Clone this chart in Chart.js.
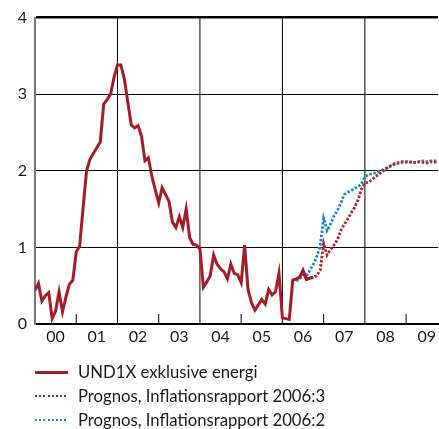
<!DOCTYPE html>
<html><head><meta charset="utf-8">
<script src="https://cdn.jsdelivr.net/npm/chart.js@4.4.0/dist/chart.umd.min.js"></script>
<style>
html,body{margin:0;padding:0;background:#fff;}
#wrap{position:relative;width:439px;height:429px;overflow:hidden;}
#c{position:absolute;left:0;top:0;}
#legend{position:absolute;left:0;top:0;width:439px;height:429px;font-family:Lato,'Open Sans',sans-serif;font-size:16.7px;color:#1a1a1a;}
.row{position:absolute;left:35px;height:24px;white-space:nowrap;}
.sw{position:absolute;left:0;width:33px;}
.txt{position:absolute;left:43px;top:0;line-height:24px;}
</style></head>
<body>
<div id="wrap">
<canvas id="c" width="439" height="345"></canvas>
<div id="legend"></div>
</div>
<script>
// x axis: years (labels centered on each year); months counted from Jan 2000 = 0
const yearLabels = ['00','01','02','03','04','05','06','07','08','09'];
const yTicks = [0, 1, 2, 3, 4];

// UND1X exklusive energi, monthly from Jan 2000
const undxStart = 0;
const undx = [0.44,0.53,0.30,0.37,0.41,0.07,0.17,0.42,0.16,0.35,0.52,0.57,
  0.94,1.02,1.52,2.00,2.15,2.23,2.30,2.38,2.87,2.93,3.00,3.22,
  3.38,3.38,3.20,2.90,2.60,2.56,2.59,2.45,2.13,2.17,1.93,1.75,
  1.58,1.78,1.69,1.60,1.33,1.26,1.40,1.26,1.50,1.13,1.04,1.03,
  0.98,0.48,0.55,0.63,0.90,0.78,0.72,0.68,0.59,0.78,0.66,0.64,
  0.54,1.03,0.45,0.28,0.18,0.25,0.32,0.26,0.45,0.38,0.42,0.66,
  0.08,0.07,0.06,0.57,0.59,0.61,0.70,0.58,0.60,0.61];

// Prognos, Inflationsrapport 2006:3, monthly from Apr 2006
const prog3Start = 75;
const prog3 = [0.57,0.59,0.61,0.70,0.58,0.60,0.61,0.63,0.70,
  1.05,0.90,0.97,1.03,1.10,1.22,1.30,1.37,1.45,1.52,1.62,1.76,
  1.84,1.85,1.88,1.92,1.95,1.99,2.02,2.05,2.08,2.10,2.11,2.12,
  2.12,2.12,2.11,2.11,2.12,2.11,2.10,2.12,2.11,2.12];

// Prognos, Inflationsrapport 2006:2, monthly from May 2006
const prog2Start = 76;
const prog2 = [0.56,0.59,0.64,0.63,0.70,0.78,0.88,1.02,
  1.38,1.22,1.30,1.41,1.48,1.58,1.69,1.72,1.74,1.77,1.79,1.83,
  1.92,1.95,1.96,1.97,1.99,2.01,2.03,2.05,2.07,2.09,2.10,2.11,
  2.11,2.11,2.11,2.11,2.12,2.13,2.12,2.13,2.13,2.13];

const seriesLabels = ['UND1X exklusive energi','Prognos, Inflationsrapport 2006:3','Prognos, Inflationsrapport 2006:2'];

const RED = '#a51d24', RED2 = '#b0242b', BLUE = '#1f88cc';
const toPts = (arr, start) => arr.map((v, i) => ({x: start + i, y: v}));

const yearGrid = {
  id: 'yearGrid',
  beforeDatasetsDraw(chart) {
    const {ctx, chartArea: {top, bottom}, scales: {x}} = chart;
    ctx.save();
    ctx.strokeStyle = '#000';
    ctx.lineWidth = 1;
    for (let i = 1; i < yearLabels.length; i++) {
      const px = x.getPixelForValue(i * 12);
      ctx.beginPath();
      ctx.moveTo(px, i % 2 === 0 ? top : bottom - 10);
      ctx.lineTo(px, bottom);
      ctx.stroke();
    }
    ctx.restore();
  }
};

const tickFont = {family: "Lato, 'Open Sans', sans-serif", size: 16};

const chart = new Chart(document.getElementById('c'), {
  type: 'line',
  data: {
    datasets: [
      {label: seriesLabels[0], data: toPts(undx, undxStart), borderColor: RED, borderWidth: 3},
      {label: seriesLabels[1], data: toPts(prog3, prog3Start), borderColor: RED2, borderWidth: 2.8, borderDash: [2.5, 1.7]},
      {label: seriesLabels[2], data: toPts(prog2, prog2Start), borderColor: BLUE, borderWidth: 2.8, borderDash: [2.5, 1.7]}
    ]
  },
  options: {
    responsive: false,
    animation: false,
    layout: {padding: {top: 16, left: 0, right: 0, bottom: 0}},
    elements: {point: {radius: 0}, line: {tension: 0, fill: false, borderCapStyle: 'butt'}},
    plugins: {legend: {display: false}, tooltip: {enabled: false}},
    scales: {
      x: {
        type: 'linear', min: 0, max: 117.3,
        afterBuildTicks: s => { s.ticks = yearLabels.map((_, i) => ({value: i * 12 + 6})); },
        afterFit: s => { s.height = 21; },
        ticks: {autoSkip: false, maxRotation: 0, padding: 3, color: '#1a1a1a', font: tickFont,
          callback: (v, i) => yearLabels[i]},
        grid: {color: 'rgba(0,0,0,0)', drawTicks: false},
        border: {color: '#000', width: 2}
      },
      y: {
        min: yTicks[0], max: yTicks[yTicks.length - 1],
        afterBuildTicks: s => { s.ticks = yTicks.map(v => ({value: v})); },
        afterFit: s => { s.width = 35; },
        ticks: {padding: 8, color: '#1a1a1a', font: tickFont},
        grid: {color: '#000', lineWidth: c => (c.tick && c.tick.value === 4 ? 2.5 : 1), drawTicks: false},
        border: {color: '#777', width: 2}
      }
    }
  },
  plugins: [yearGrid]
});

// HTML legend built from the chart's datasets
const legend = document.getElementById('legend');
const rowTops = [360, 384, 407.5];
chart.data.datasets.forEach((ds, i) => {
  const row = document.createElement('div');
  row.className = 'row';
  row.style.top = rowTops[i] + 'px';
  const sw = document.createElement('div');
  sw.className = 'sw';
  if (ds.borderDash && ds.borderDash.length) {
    sw.style.height = '2px';
    sw.style.top = '11px';
    sw.style.background = `repeating-linear-gradient(to right, ${ds.borderColor} 0 2px, transparent 2px 4.2px)`;
  } else {
    sw.style.height = '3px';
    sw.style.top = '10.5px';
    sw.style.background = ds.borderColor;
  }
  const t = document.createElement('div');
  t.className = 'txt';
  t.textContent = ds.label;
  t.style.top = '0px';
  row.appendChild(sw);
  row.appendChild(t);
  legend.appendChild(row);
});
</script>
</body></html>
